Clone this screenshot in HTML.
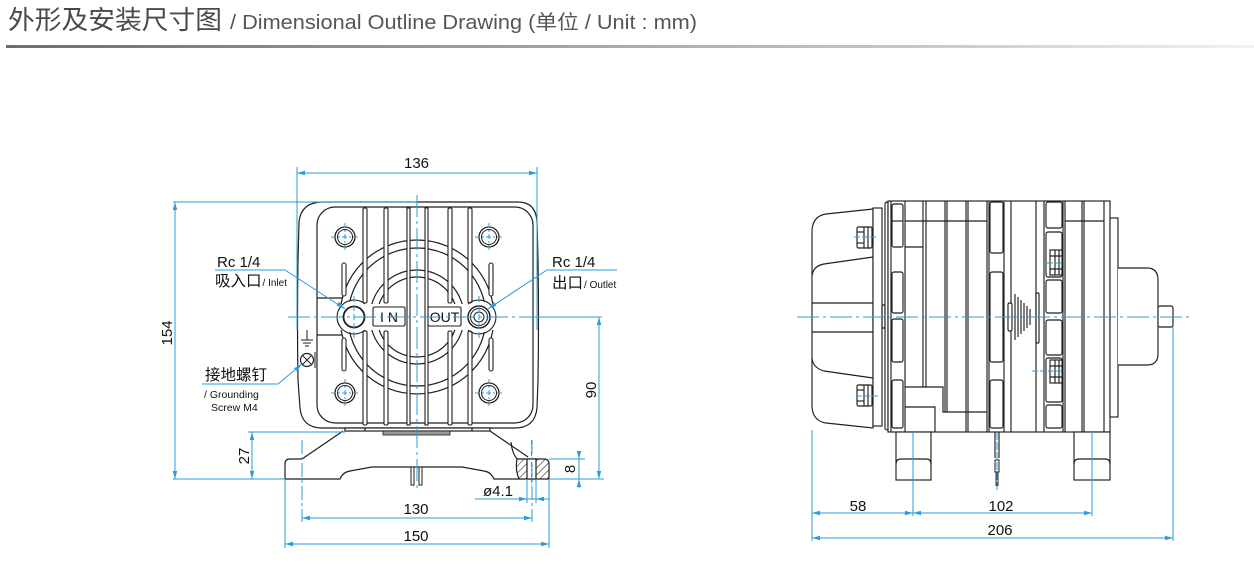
<!DOCTYPE html>
<html>
<head>
<meta charset="utf-8">
<style>
html,body{margin:0;padding:0;background:#fff;}
body{width:1254px;height:566px;overflow:hidden;}
svg{display:block;}
text{font-family:"Liberation Sans","Noto Sans CJK SC",sans-serif;}
</style>
</head>
<body>
<svg width="1254" height="566" viewBox="0 0 1254 566" xmlns="http://www.w3.org/2000/svg">
<defs>
  <linearGradient id="hg" x1="0" y1="0" x2="1" y2="0">
    <stop offset="0" stop-color="#6e6e6e"/>
    <stop offset="0.72" stop-color="#c6c6c6"/>
    <stop offset="1" stop-color="#f2f2f2"/>
  </linearGradient>
  <pattern id="hatch" patternUnits="userSpaceOnUse" width="5" height="5" patternTransform="rotate(45)">
    <rect width="5" height="5" fill="#fff"/>
    <line x1="0" y1="0" x2="0" y2="5" stroke="#222" stroke-width="1.1"/>
  </pattern>
</defs>

<!-- Header -->
<text x="8" y="29" font-size="26" fill="#4a4a4a" textLength="214" lengthAdjust="spacingAndGlyphs">外形及安装尺寸图</text>
<text x="230" y="29" font-size="20" fill="#555" textLength="467" lengthAdjust="spacingAndGlyphs">/ Dimensional Outline Drawing (单位 / Unit : mm)</text>
<rect x="6" y="45" width="1248" height="3" fill="url(#hg)"/>

<!-- ================= FRONT VIEW ================= -->
<g fill="none" stroke="#1f1f1f" stroke-width="1.2">
  <path d="M323,202 L518,202 Q536,202 537,222 L538,260 Q539,320 538,380 L537,408 Q535,428 515,428 L322,428 Q302,428 300,408 L298,380 Q297,320 298,260 L299,222 Q301,202 323,202 Z" fill="#fff"/>
  <rect x="317" y="207" width="216" height="216" rx="18"/>
  <line x1="317" y1="298" x2="342" y2="298"/>
  <line x1="317" y1="335" x2="342" y2="335"/>
  <circle cx="417" cy="317" r="77"/>
  <circle cx="417" cy="317" r="69"/>
  <circle cx="417" cy="317" r="47"/>
  <circle cx="417" cy="317" r="40"/>
</g>
<rect x="340" y="304" width="155" height="26" fill="#fff"/>
<g fill="#fff" stroke="#1f1f1f" stroke-width="1.1">
  <rect x="363" y="208" width="4" height="95" rx="1.5"/>
  <rect x="363" y="331" width="4" height="94" rx="1.5"/>
  <rect x="384" y="208" width="4" height="95" rx="1.5"/>
  <rect x="384" y="331" width="4" height="94" rx="1.5"/>
  <rect x="407" y="208" width="3" height="217"/>
  <rect x="425" y="208" width="3" height="217"/>
  <rect x="448" y="208" width="4" height="95" rx="1.5"/>
  <rect x="448" y="331" width="4" height="94" rx="1.5"/>
  <rect x="468" y="208" width="4" height="95" rx="1.5"/>
  <rect x="468" y="331" width="4" height="94" rx="1.5"/>
  <rect x="342" y="263" width="4" height="33" rx="2"/>
  <rect x="342" y="338" width="4" height="33" rx="2"/>
  <rect x="489" y="263" width="4" height="33" rx="2"/>
  <rect x="489" y="338" width="4" height="33" rx="2"/>
  <circle cx="354" cy="317" r="16" stroke="none"/>
  <circle cx="479" cy="317" r="16" stroke="none"/>
  <path d="M365,304 A17,17 0 1 0 365,330" fill="none"/>
  <path d="M468,304 A17,17 0 1 1 468,330" fill="none"/>
  <rect x="373" y="307" width="32" height="19" rx="1.5"/>
  <rect x="428" y="307" width="33" height="19" rx="1.5"/>
</g>
<text x="389" y="322" font-size="14" text-anchor="middle" fill="#111">I N</text>
<text x="444.5" y="322" font-size="14" text-anchor="middle" fill="#111">OUT</text>
<g fill="none" stroke="#1f1f1f">
  <circle cx="354" cy="317" r="10.5" stroke-width="1.8"/>
  <circle cx="479" cy="317" r="11" stroke-width="1.5"/>
  <circle cx="479" cy="317" r="8.5" stroke-width="1"/>
  <circle cx="479" cy="317" r="5" stroke-width="1"/>
  <circle cx="345" cy="237" r="10" stroke-width="1.3"/><circle cx="345" cy="237" r="7.5"/>
  <circle cx="489" cy="237" r="10" stroke-width="1.3"/><circle cx="489" cy="237" r="7.5"/>
  <circle cx="345" cy="393" r="10" stroke-width="1.3"/><circle cx="345" cy="393" r="7.5"/>
  <circle cx="489" cy="393" r="10" stroke-width="1.3"/><circle cx="489" cy="393" r="7.5"/>
  <line x1="307" y1="330" x2="307" y2="340"/>
  <line x1="301" y1="340" x2="313" y2="340"/>
  <line x1="303" y1="343" x2="311" y2="343"/>
  <line x1="305" y1="346" x2="309" y2="346"/>
  <circle cx="307" cy="360" r="6.5" stroke-width="1.2"/>
  <line x1="302.5" y1="355.5" x2="311.5" y2="364.5"/>
  <line x1="311.5" y1="355.5" x2="302.5" y2="364.5"/>
  <line x1="315" y1="352" x2="315" y2="368"/>
</g>

<g fill="none" stroke="#1f1f1f" stroke-width="1.2">
  <rect x="345" y="428" width="145" height="3" fill="#fff"/>
  <line x1="365" y1="428" x2="365" y2="431"/>
  <line x1="472" y1="428" x2="472" y2="431"/>
  <rect x="383" y="431" width="67" height="4" fill="#9a9a9a" stroke-width="0.8"/>
  <line x1="343" y1="431" x2="302" y2="459"/>
  <line x1="490" y1="431" x2="528" y2="457"/>
  <path d="M511,442 Q512,453 517,459"/>
  <path d="M302,459 L290,459 Q285,459 285,464 L285,479 L340,479 Q343,472 350,471 L372,467 L462,467 L484,471 Q491,472 494,479 L519,479"/>
  <path d="M517,459 L544,459 Q549,459 549,464 L549,479 L519,479 Q515,470 517,459 Z" fill="url(#hatch)"/>
  <rect x="527" y="459" width="9" height="20" fill="#fff"/>
  <rect x="411" y="467" width="3" height="18" fill="#fff" stroke-width="1"/>
  <rect x="419" y="467" width="3" height="18" fill="#fff" stroke-width="1"/>
</g>

<g stroke="#2a9dd6" stroke-width="1" fill="none">
  <line x1="417" y1="195" x2="417" y2="492" stroke-dasharray="22,4,3,4"/>
  <line x1="288" y1="317" x2="540" y2="317" stroke-dasharray="22,4,3,4"/>
  <line x1="540" y1="317" x2="602" y2="317"/>
  <line x1="354" y1="296" x2="354" y2="340" stroke-dasharray="6,3"/>
  <line x1="479" y1="296" x2="479" y2="340" stroke-dasharray="6,3"/>
  <path d="M331,237 H359 M345,223 V251 M475,237 H503 M489,223 V251 M331,393 H359 M345,379 V407 M475,393 H503 M489,379 V407" stroke-dasharray="5,2,2,2"/>
  <line x1="297" y1="167" x2="297" y2="330"/>
  <line x1="537" y1="167" x2="537" y2="330"/>
  <line x1="297" y1="173" x2="537" y2="173"/>
  <line x1="173" y1="202" x2="417" y2="202"/>
  <line x1="173" y1="479" x2="285" y2="479"/>
  <line x1="175" y1="202" x2="175" y2="479"/>
  <line x1="248" y1="432" x2="345" y2="432"/>
  <line x1="252" y1="432" x2="252" y2="479"/>
  <line x1="549" y1="479" x2="604" y2="479"/>
  <line x1="599" y1="317" x2="599" y2="479"/>
  <line x1="549" y1="459" x2="585" y2="459"/>
  <line x1="579" y1="451" x2="579" y2="488"/>
  <line x1="527" y1="479" x2="527" y2="503"/>
  <line x1="536" y1="479" x2="536" y2="503"/>
  <line x1="475" y1="499" x2="549" y2="499"/>
  <line x1="531.5" y1="440" x2="531.5" y2="485" stroke-dasharray="5,2,2,2"/>
  <line x1="302" y1="440" x2="302" y2="522" stroke-dasharray="14,3,3,3"/>
  <line x1="532" y1="440" x2="532" y2="522" stroke-dasharray="14,3,3,3"/>
  <line x1="302" y1="518" x2="532" y2="518"/>
  <line x1="285" y1="479" x2="285" y2="548"/>
  <line x1="549" y1="479" x2="549" y2="548"/>
  <line x1="285" y1="544" x2="549" y2="544"/>
  <polyline points="215,270 285,270 345,309"/>
  <polyline points="617,270 547,270 488,309"/>
  <polyline points="202,384 278,384 302,364"/>
</g>
<g fill="#2a9dd6">
  <polygon points="297,173 305,170.8 305,175.2"/>
  <polygon points="537,173 529,170.8 529,175.2"/>
  <polygon points="175,202 172.8,210 177.2,210"/>
  <polygon points="175,479 172.8,471 177.2,471"/>
  <polygon points="252,432 249.8,440 254.2,440"/>
  <polygon points="252,479 249.8,471 254.2,471"/>
  <polygon points="599,317 596.8,325 601.2,325"/>
  <polygon points="599,479 596.8,471 601.2,471"/>
  <polygon points="579,459 576.8,451 581.2,451"/>
  <polygon points="579,479 576.8,487 581.2,487"/>
  <polygon points="527,499 519,496.8 519,501.2"/>
  <polygon points="536,499 544,496.8 544,501.2"/>
  <polygon points="302,518 310,515.8 310,520.2"/>
  <polygon points="532,518 524,515.8 524,520.2"/>
  <polygon points="285,544 293,541.8 293,546.2"/>
  <polygon points="549,544 541,541.8 541,546.2"/>
  <polygon points="345,309 336.5,305.5 339,301.8"/>
  <polygon points="488,309 494,302 496.5,305.7"/>
  <polygon points="302,364 297,371.5 294,368.2"/>
</g>

<g fill="#111" font-size="15">
  <text x="416.5" y="168" text-anchor="middle">136</text>
  <text transform="translate(172,333) rotate(-90)" text-anchor="middle">154</text>
  <text transform="translate(249,456) rotate(-90)" text-anchor="middle">27</text>
  <text transform="translate(596,390) rotate(-90)" text-anchor="middle">90</text>
  <text transform="translate(575,469) rotate(-90)" text-anchor="middle">8</text>
  <text x="483" y="496">ø4.1</text>
  <text x="416" y="514" text-anchor="middle">130</text>
  <text x="416" y="541" text-anchor="middle">150</text>
  <text x="217" y="267">Rc 1/4</text>
  <text x="552" y="267">Rc 1/4</text>
</g>
<g fill="#111">
  <text x="215" y="286" font-size="15.5">吸入口<tspan font-size="10" dx="1">/ Inlet</tspan></text>
  <text x="552" y="288" font-size="15.5">出口<tspan font-size="10" dx="1">/ Outlet</tspan></text>
  <text x="205" y="380" font-size="15.5">接地螺钉</text>
  <text x="204" y="398" font-size="10.5">/ Grounding</text>
  <text x="211" y="411" font-size="10.5">Screw M4</text>
</g>

<!-- ================= SIDE VIEW ================= -->
<g fill="none" stroke="#1f1f1f" stroke-width="1.15">
  <path d="M873,209 L826,214 Q813,216 812,230 L812,407 Q813,421 826,423 L873,428 Z" fill="#fff"/>
  <path d="M812,276 Q813,266 824,264 L873,257"/>
  <path d="M812,358 Q813,368 824,371 L873,378"/>
  <line x1="812" y1="303" x2="873" y2="303"/>
  <line x1="812" y1="332" x2="873" y2="332"/>
  <rect x="873" y="208" width="9" height="218" fill="#fff"/>
  <rect x="882" y="305" width="3" height="23" rx="1"/>
  <path d="M885,204 Q885,202 888,202 L888,430 Q885,430 885,428 Z" fill="#fff"/>
  <rect x="857" y="227" width="15" height="21" rx="1.5" fill="#fff"/>
  <line x1="864" y1="227" x2="864" y2="248"/><line x1="868" y1="227" x2="868" y2="248"/>
  <line x1="857" y1="232" x2="864" y2="232"/><line x1="857" y1="243" x2="864" y2="243"/>
  <rect x="857" y="385" width="15" height="21" rx="1.5" fill="#fff"/>
  <line x1="864" y1="385" x2="864" y2="406"/><line x1="868" y1="385" x2="868" y2="406"/>
  <line x1="857" y1="390" x2="864" y2="390"/><line x1="857" y1="401" x2="864" y2="401"/>

  <rect x="888" y="201" width="222" height="231" fill="#fff"/>
  <path d="M891,201 V432 M905,201 V432 M923,201 V387 M926,201 V387 M945,201 V412 M947,201 V412 M966,201 V432 M968,201 V432 M987,201 V432 M989,201 V432 M1004,201 V432 M1011,201 V432 M1036,201 V432 M1044,201 V432 M1063,201 V432 M1065,201 V432 M1082,201 V432 M1084,201 V432 M1104,201 V432"/>
  <path d="M905,221 H987 M1065,221 H1104 M905,247 H923 M905,387 H943 V412 H987 M905,407 H935 V432"/>
  <rect x="892" y="204" width="11" height="43" rx="2"/>
  <line x1="892" y1="221" x2="903" y2="221"/>
  <rect x="892" y="272" width="11" height="41" rx="2"/>
  <rect x="892" y="319" width="11" height="43" rx="2"/>
  <rect x="892" y="380" width="11" height="48" rx="2"/>
  <rect x="990" y="202" width="13" height="51" rx="2"/>
  <rect x="990" y="272" width="13" height="90" rx="2"/>
  <rect x="990" y="380" width="13" height="48" rx="2"/>
  <rect x="1046" y="202" width="16" height="26" rx="2"/>
  <rect x="1046" y="232" width="16" height="45" rx="2"/>
  <rect x="1046" y="280" width="16" height="33" rx="2"/>
  <rect x="1046" y="320" width="16" height="35" rx="2"/>
  <rect x="1046" y="358" width="16" height="44" rx="2"/>
  <rect x="1046" y="405" width="16" height="23" rx="2"/>
  <rect x="1050" y="250" width="12" height="25" fill="#fff"/>
  <path d="M1055,250 V275 M1059,250 V275 M1050,256 H1062 M1050,269 H1062"/>
  <rect x="1050" y="360" width="12" height="23" fill="#fff"/>
  <path d="M1055,360 V383 M1059,360 V383 M1050,366 H1062 M1050,377 H1062"/>
  <rect x="1008" y="303" width="4" height="28" rx="1.5" fill="#fff"/>
  <path d="M1015,294 V340 M1018,297 V337 M1021,300 V334 M1024,303 V331 M1027,306 V328 M1030,309 V325"/>
  <rect x="1036" y="293" width="3" height="50" rx="1"/>
  <rect x="1110" y="218" width="8" height="199" fill="#fff"/>
  <path d="M1118,268 H1147 Q1158,268 1158,280 V354 Q1158,365 1147,365 H1118" fill="#fff"/>
  <rect x="1158" y="306" width="15" height="21" rx="2" fill="#fff"/>
  <rect x="896" y="432" width="35" height="48" fill="#fff"/>
  <path d="M896,464 Q896,459 901,459 L926,459 Q931,459 931,464"/>
  <rect x="1074" y="432" width="36" height="48" fill="#fff"/>
  <path d="M1074,464 Q1074,459 1079,459 L1105,459 Q1110,459 1110,464"/>
  <path d="M995,432 V458 M999,432 V458"/>
  <rect x="995" y="460" width="4" height="12" fill="#fff" stroke-width="1"/>
  <path d="M996,472 V486 M998,472 V486" stroke-width="0.9"/>
</g>

<g stroke="#2a9dd6" stroke-width="1" fill="none">
  <line x1="797" y1="317" x2="1190" y2="317" stroke-dasharray="22,4,3,4"/>
  <line x1="854" y1="237" x2="878" y2="237" stroke-dasharray="6,2"/>
  <line x1="856" y1="396" x2="878" y2="396" stroke-dasharray="6,2"/>
  <line x1="1047" y1="263" x2="1064" y2="263" stroke-dasharray="6,2"/>
  <line x1="1032" y1="371" x2="1065" y2="371" stroke-dasharray="6,2"/>
  <line x1="997" y1="432" x2="997" y2="490" stroke-dasharray="8,2"/>
  <line x1="812" y1="430" x2="812" y2="541"/>
  <line x1="913" y1="432" x2="913" y2="516"/>
  <line x1="1092" y1="432" x2="1092" y2="516"/>
  <line x1="1173" y1="327" x2="1173" y2="541"/>
  <line x1="812" y1="513" x2="1092" y2="513"/>
  <line x1="812" y1="538" x2="1173" y2="538"/>
</g>
<g fill="#2a9dd6">
  <polygon points="812,513 820,510.8 820,515.2"/>
  <polygon points="913,513 905,510.8 905,515.2"/>
  <polygon points="913,513 921,510.8 921,515.2"/>
  <polygon points="1092,513 1084,510.8 1084,515.2"/>
  <polygon points="812,538 820,535.8 820,540.2"/>
  <polygon points="1173,538 1165,535.8 1165,540.2"/>
</g>
<g fill="#111" font-size="15">
  <text x="858" y="511" text-anchor="middle">58</text>
  <text x="1001" y="511" text-anchor="middle">102</text>
  <text x="1000" y="535" text-anchor="middle">206</text>
</g>
</svg>
</body>
</html>
